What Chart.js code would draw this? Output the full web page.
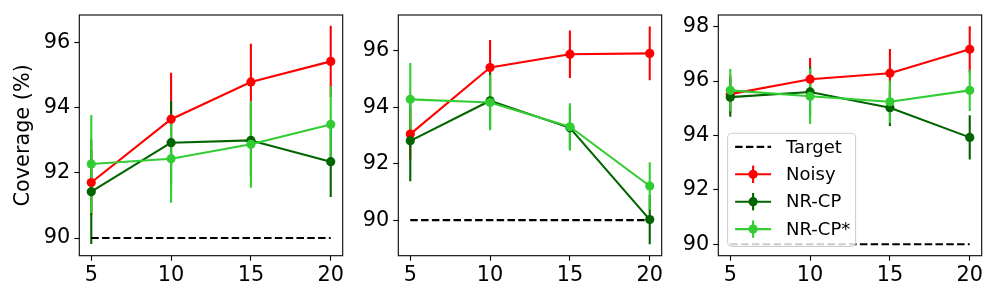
<!DOCTYPE html>
<html><head><meta charset="utf-8">
<script src="https://cdn.jsdelivr.net/npm/chart.js@4"></script>
<style>
html,body{margin:0;padding:0;background:#fff;}
#wrap{position:relative;width:1000px;height:300px;overflow:hidden;background:#fff;}
.panel{position:absolute;top:0;height:300px;}
canvas{display:block;}
</style></head><body>
<div id="wrap">
<div class="panel" style="left:0;width:350px"><canvas id="c1" width="350" height="300"></canvas></div>
<div class="panel" style="left:350px;width:320px"><canvas id="c2" width="320" height="300"></canvas></div>
<div class="panel" style="left:670px;width:330px"><canvas id="c3" width="330" height="300"></canvas></div>
</div>
<script>
// ---------- data ----------
const xValues = [5, 10, 15, 20];
const xTicks = [5, 10, 15, 20];
const targetValue = 90;
const seriesLabels = ['Target', 'Noisy', 'NR-CP', 'NR-CP*'];

// panel 1
const p1Noisy    = [91.70, 93.64, 94.78, 95.41];
const p1NoisyErr = [1.00, 1.42, 1.17, 1.09];
const p1NRCP     = [91.42, 92.92, 92.99, 92.34];
const p1NRCPErr  = [1.60, 1.28, 1.10, 1.08];
const p1NRCPs    = [92.27, 92.43, 92.87, 93.48];
const p1NRCPsErr = [1.50, 1.35, 1.33, 1.17];
const p1YTicks   = [90, 92, 94, 96];

// panel 2
const p2Noisy    = [93.05, 95.41, 95.88, 95.91];
const p2NoisyErr = [0.90, 0.97, 0.84, 0.95];
const p2NRCP     = [92.81, 94.23, 93.27, 90.02];
const p2NRCPErr  = [1.43, 1.00, 0.79, 0.87];
const p2NRCPs    = [94.28, 94.17, 93.31, 91.21];
const p2NRCPsErr = [1.29, 0.98, 0.83, 0.84];
const p2YTicks   = [90, 92, 94, 96];

// panel 3
const p3Noisy    = [95.52, 96.07, 96.29, 97.17];
const p3NoisyErr = [0.70, 0.78, 0.89, 0.85];
const p3NRCP     = [95.41, 95.60, 95.02, 93.93];
const p3NRCPErr  = [0.72, 0.93, 0.67, 0.81];
const p3NRCPs    = [95.66, 95.44, 95.24, 95.66];
const p3NRCPsErr = [0.78, 1.02, 0.78, 0.76];
const p3YTicks   = [90, 92, 94, 96, 98];

// ---------- style ----------
const FONT = 'DejaVu Sans';
Chart.defaults.font.family = FONT;
const COLORS = { target: '#000000', noisy: '#ff0000', nrcp: '#006400', nrcps: '#32cd32' };
const TICK_SIZE = 20.8;
const LEGEND_SIZE = 18;

const pts = (ys) => xValues.map((x, i) => ({ x: x, y: ys[i] }));

const errorBars = {
  id: 'errorBars',
  beforeDatasetsDraw(chart) {
    const { ctx, chartArea: a } = chart;
    const xs = chart.scales.x, ys = chart.scales.y;
    ctx.save();
    ctx.beginPath();
    ctx.rect(a.left, a.top, a.right - a.left, a.bottom - a.top);
    ctx.clip();
    const list = chart.data.datasets.filter(d => d.err).sort((p, q) => q.order - p.order);
    for (const d of list) {
      ctx.strokeStyle = d.borderColor;
      ctx.lineWidth = 2.1;
      ctx.lineCap = 'butt';
      ctx.beginPath();
      d.data.forEach((p, i) => {
        const px = xs.getPixelForValue(p.x);
        ctx.moveTo(px, ys.getPixelForValue(p.y - d.err[i]));
        ctx.lineTo(px, ys.getPixelForValue(p.y + d.err[i]));
      });
      ctx.stroke();
    }
    ctx.restore();
  }
};

const frameAndLegend = {
  id: 'frameAndLegend',
  afterDatasetsDraw(chart, args, opts) {
    const { ctx, chartArea: a } = chart;
    ctx.save();
    ctx.strokeStyle = '#000';
    ctx.lineWidth = 1.1;
    ctx.strokeRect(a.left, a.top, a.right - a.left, a.bottom - a.top);
    ctx.restore();
    if (!opts || !opts.show) return;
    const left = a.left + 9.3, bottom = a.bottom - 9.2, w = 128, h = 113.2, top = bottom - h;
    ctx.save();
    const r = 4;
    ctx.beginPath();
    ctx.moveTo(left + r, top);
    ctx.lineTo(left + w - r, top);
    ctx.arcTo(left + w, top, left + w, top + r, r);
    ctx.lineTo(left + w, bottom - r);
    ctx.arcTo(left + w, bottom, left + w - r, bottom, r);
    ctx.lineTo(left + r, bottom);
    ctx.arcTo(left, bottom, left, bottom - r, r);
    ctx.lineTo(left, top + r);
    ctx.arcTo(left, top, left + r, top, r);
    ctx.closePath();
    ctx.fillStyle = 'rgba(255,255,255,0.8)';
    ctx.fill();
    ctx.strokeStyle = '#cccccc';
    ctx.lineWidth = 1;
    ctx.stroke();
    const items = chart.data.datasets.slice().sort((p, q) => p.legendRank - q.legendRank);
    items.forEach((d, i) => {
      const cy = top + 13.6 + i * 27.4;
      const x0 = left + 7.5, x1 = left + 43.5, cx = (x0 + x1) / 2;
      ctx.strokeStyle = d.borderColor;
      ctx.lineWidth = 2.1;
      ctx.setLineDash(d.borderDash || []);
      ctx.beginPath();
      ctx.moveTo(x0, cy); ctx.lineTo(x1, cy);
      ctx.stroke();
      ctx.setLineDash([]);
      if (d.err) {
        ctx.beginPath();
        ctx.moveTo(cx, cy - 8.7); ctx.lineTo(cx, cy + 8.7);
        ctx.stroke();
        ctx.beginPath();
        ctx.arc(cx, cy, 4.6, 0, Math.PI * 2);
        ctx.fillStyle = d.backgroundColor;
        ctx.fill();
      }
      ctx.fillStyle = '#000';
      ctx.font = LEGEND_SIZE + 'px "' + FONT + '"';
      ctx.textBaseline = 'middle';
      ctx.textAlign = 'left';
      ctx.fillText(d.label, left + 58.5, cy + 1);
    });
    ctx.restore();
  }
};

function seriesDataset(label, ys, err, color, order, rank) {
  return {
    label: label, data: pts(ys), err: err,
    borderColor: color, backgroundColor: color,
    borderWidth: 2.1, showLine: true, tension: 0,
    borderJoinStyle: 'round',
    pointRadius: 4.6, pointHoverRadius: 4.6, pointBorderWidth: 0,
    order: order, legendRank: rank
  };
}

function makeChart(id, cfg) {
  const tickFont = { family: FONT, size: TICK_SIZE };
  const gridCfg = { display: true, drawOnChartArea: false, drawTicks: true, tickLength: 5, tickWidth: 1.1, tickColor: '#000', color: '#000' };
  return new Chart(document.getElementById(id), {
    type: 'scatter',
    data: {
      datasets: [
        {
          label: seriesLabels[0],
          data: [{ x: xValues[0], y: targetValue }, { x: xValues[xValues.length - 1], y: targetValue }],
          borderColor: COLORS.target, backgroundColor: COLORS.target,
          borderWidth: 2.1, borderDash: [7.5, 3.3], showLine: true,
          pointRadius: 0, pointHoverRadius: 0, order: 4, legendRank: 0
        },
        seriesDataset(seriesLabels[1], cfg.noisy, cfg.noisyErr, COLORS.noisy, 3, 1),
        seriesDataset(seriesLabels[2], cfg.nrcp, cfg.nrcpErr, COLORS.nrcp, 2, 2),
        seriesDataset(seriesLabels[3], cfg.nrcps, cfg.nrcpsErr, COLORS.nrcps, 1, 3)
      ]
    },
    options: {
      responsive: false, animation: false, devicePixelRatio: 1, events: [],
      layout: { padding: { top: 15, right: cfg.rightPad, left: 0, bottom: 0 } },
      plugins: { legend: { display: false }, tooltip: { enabled: false }, frameAndLegend: { show: cfg.legend } },
      scales: {
        x: {
          type: 'linear', min: 4.25, max: 20.75,
          afterBuildTicks: s => { s.ticks = xTicks.map(v => ({ value: v })); },
          ticks: { font: tickFont, color: '#000', padding: 2, maxRotation: 0, autoSkip: false, callback: v => String(v) },
          grid: gridCfg, border: { display: false },
          afterFit: s => { s.height = 44.3; s.paddingLeft = 0; s.paddingRight = 0; }
        },
        y: {
          type: 'linear', min: cfg.yMin, max: cfg.yMax,
          afterBuildTicks: s => { s.ticks = cfg.yTicks.map(v => ({ value: v })); },
          ticks: { font: tickFont, color: '#000', padding: 4, autoSkip: false, callback: v => String(v) },
          grid: gridCfg, border: { display: false },
          title: { display: cfg.title, text: 'Coverage (%)', color: '#000', font: { family: FONT, size: TICK_SIZE }, padding: { top: 11.5, bottom: 0 } },
          afterFit: s => { s.width = cfg.yWidth; s.paddingTop = 0; s.paddingBottom = 0; }
        }
      }
    },
    plugins: [errorBars, frameAndLegend]
  });
}

makeChart('c1', { noisy: p1Noisy, noisyErr: p1NoisyErr, nrcp: p1NRCP, nrcpErr: p1NRCPErr, nrcps: p1NRCPs, nrcpsErr: p1NRCPsErr,
  yMin: 89.46, yMax: 96.83, yTicks: p1YTicks, yWidth: 79.3, rightPad: 7.3, title: true, legend: false });
makeChart('c2', { noisy: p2Noisy, noisyErr: p2NoisyErr, nrcp: p2NRCP, nrcpErr: p2NRCPErr, nrcps: p2NRCPs, nrcpsErr: p2NRCPsErr,
  yMin: 88.74, yMax: 97.27, yTicks: p2YTicks, yWidth: 48.3, rightPad: 8.3, title: false, legend: false });
makeChart('c3', { noisy: p3Noisy, noisyErr: p3NoisyErr, nrcp: p3NRCP, nrcpErr: p3NRCPErr, nrcps: p3NRCPs, nrcpsErr: p3NRCPsErr,
  yMin: 89.58, yMax: 98.43, yTicks: p3YTicks, yWidth: 48.3, rightPad: 18.3, title: false, legend: true });
</script>
</body></html>
